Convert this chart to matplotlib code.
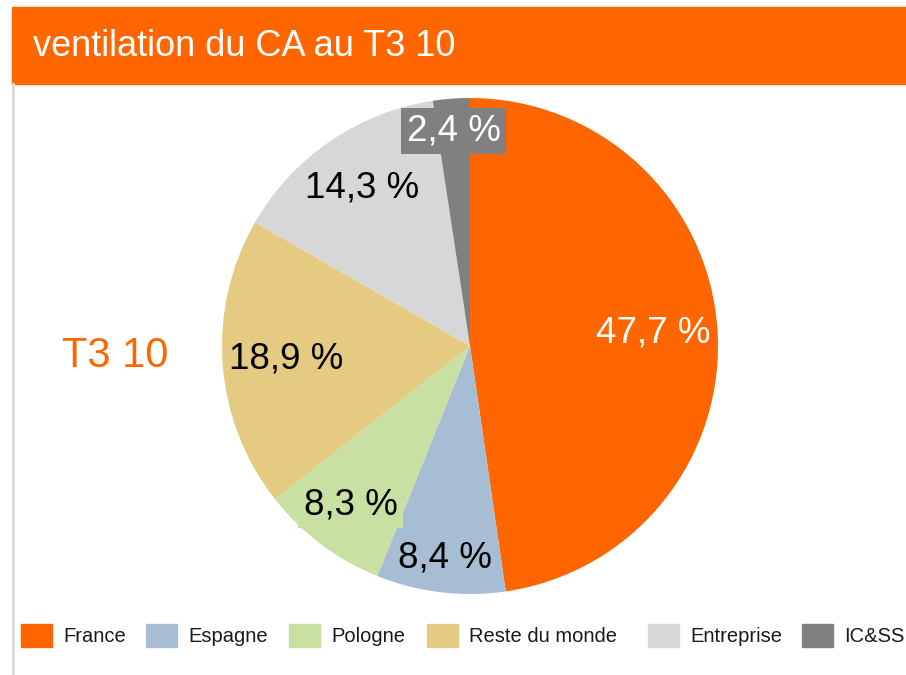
import numpy as np
import matplotlib.pyplot as plt
from matplotlib.patches import Rectangle
from matplotlib.lines import Line2D

# Daten
categories = ["France", "Espagne", "Pologne", "Reste du monde", "Entreprise", "IC&SS"]
values = [47.7, 8.4, 8.3, 18.9, 14.3, 2.4]
labels = ["47,7 %", "8,4 %", "8,3 %", "18,9 %", "14,3 %", "2,4 %"]
title = "ventilation du CA au T3 10"
period = "T3 10"

# Stil
colors = ["#FF6600", "#A6BDD3", "#C9E0A3", "#E5CA82", "#D7D7D7", "#808080"]
text_colors = ["white", "black", "black", "black", "black", "white"]
label_radius = [0.74, 0.86, 0.80, 0.745, 0.77, 0.87]
label_box = [False, False, True, False, False, True]
legend_x = [21, 146, 289, 427, 648, 802]   # Pixel, linke Kante der Quadrate

W, H = 906, 675
plt.rcParams['font.family'] = ['Liberation Sans', 'DejaVu Sans']

fig = plt.figure(figsize=(W / 100, H / 100), dpi=100)

def fx(x):
    return x / W

def fy(y):
    return 1 - y / H

# Kopfzeile
fig.patches.append(Rectangle((fx(12), fy(84)), fx(W - 12), 77 / H,
                             transform=fig.transFigure, color="#FF6600", zorder=0))
fig.text(fx(33), fy(46), title, color="white", fontsize=26, va="center", ha="left")
fig.lines.append(Line2D([fx(13), fx(13)], [fy(84), 0], transform=fig.transFigure,
                        color="#D9D9D9", linewidth=2))

# Periode links
fig.text(fx(62), fy(356), period, color="#FF6600", fontsize=30, va="center", ha="left")

# Kreisdiagramm
ax = fig.add_axes([fx(222), fy(594), 496 / W, 496 / H])
wedges, _ = ax.pie(values, colors=colors, startangle=90, counterclock=False,
                   radius=1, wedgeprops=dict(linewidth=0))
ax.set_xlim(-1, 1)
ax.set_ylim(-1, 1)
ax.axis("off")

for w, lab, tc, r, c, box in zip(wedges, labels, text_colors, label_radius, colors, label_box):
    mid = np.deg2rad((w.theta1 + w.theta2) / 2)
    bb = dict(boxstyle="square,pad=0.15", facecolor=c, edgecolor="none") if box else None
    ax.text(r * np.cos(mid), r * np.sin(mid), lab, color=tc, fontsize=26.5,
            ha="center", va="center", zorder=5, bbox=bb)

# Legende
for xl, cat, c in zip(legend_x, categories, colors):
    fig.patches.append(Rectangle((fx(xl), fy(647)), 31 / W, 23 / H,
                                 transform=fig.transFigure, color=c))
    fig.text(fx(xl + 42), fy(636), cat, fontsize=14.5, color="#1a1a1a",
             va="center", ha="left")

fig.savefig("out.png", dpi=100)
